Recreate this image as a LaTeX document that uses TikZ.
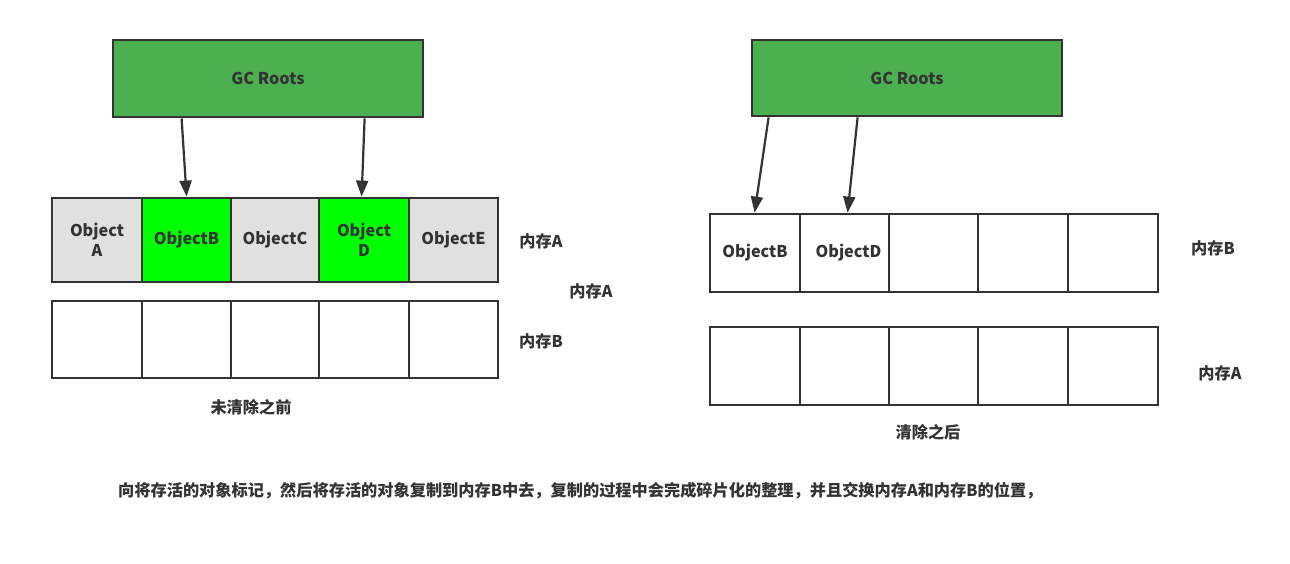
\documentclass[tikz,border=0pt]{standalone}
\usepackage{fontspec}
\setmainfont{Noto Sans CJK SC}
\usetikzlibrary{arrows.meta}
\definecolor{ink}{HTML}{333333}
\definecolor{rootgreen}{HTML}{4CAF50}
\definecolor{livegreen}{HTML}{00FF00}
\definecolor{deadgray}{HTML}{E0E0E0}
\begin{document}
\begin{tikzpicture}[x=1pt,y=-1pt,
  every node/.style={font=\bfseries\fontsize{16.2}{20}\selectfont, text=ink, inner sep=0pt, align=center},
  box/.style={draw=ink, line width=2.8pt, rectangle},
  root/.style={box, fill=rootgreen, minimum width=310pt, minimum height=77pt},
  cell/.style={box, minimum height=#1},
  ptr/.style={draw=ink, line width=2.2pt, -{Triangle[length=16pt,width=12pt]}}
]
\useasboundingbox (0,0) rectangle (1290,564);
\fill[white] (0,0) rectangle (1290,564);

% ---------- left ----------
\node[root] (gcL) at (268,78.5) {GC Roots};

\node[cell=84pt, fill=deadgray, minimum width=90pt] (a1) at (97,240) {Object\\A};
\node[cell=84pt, fill=livegreen, minimum width=89pt] (a2) at (186.5,240) {ObjectB};
\node[cell=84pt, fill=deadgray, minimum width=88pt] (a3) at (275,240) {ObjectC};
\node[cell=84pt, fill=livegreen, minimum width=90pt] (a4) at (364,240) {Object\\D};
\node[cell=84pt, fill=deadgray, minimum width=89pt] (a5) at (453.5,240) {ObjectE};

\node[cell=77pt, minimum width=90pt] (b1) at (97,339.5) {};
\node[cell=77pt, minimum width=89pt] (b2) at (186.5,339.5) {};
\node[cell=77pt, minimum width=88pt] (b3) at (275,339.5) {};
\node[cell=77pt, minimum width=90pt] (b4) at (364,339.5) {};
\node[cell=77pt, minimum width=89pt] (b5) at (453.5,339.5) {};

\draw[ptr] ([xshift=70pt]gcL.south west) -- ([xshift=46pt]a2.north west);
\draw[ptr] ([xshift=253pt]gcL.south west) -- ([xshift=44pt]a4.north west);

\node (lA1) at (541,241) {内存A};
\node (lA2) at (591,291) {内存A};
\node (lB1) at (541,341) {内存B};
\node (capL) at (251,407) {未清除之前};

% ---------- right ----------
\node[root, minimum height=76pt] (gcR) at (907,78) {GC Roots};

\node[cell=78pt, minimum width=90pt] (c1) at (755,253) {ObjectB};
\node[cell=78pt, minimum width=89pt] (c2) at (844.5,253) {\hspace*{8pt}ObjectD};
\node[cell=78pt, minimum width=89pt] (c3) at (933.5,253) {};
\node[cell=78pt, minimum width=90pt] (c4) at (1023,253) {};
\node[cell=78pt, minimum width=90pt] (c5) at (1113,253) {};

\node[cell=78pt, minimum width=90pt] (d1) at (755,366) {};
\node[cell=78pt, minimum width=89pt] (d2) at (844.5,366) {};
\node[cell=78pt, minimum width=89pt] (d3) at (933.5,366) {};
\node[cell=78pt, minimum width=90pt] (d4) at (1023,366) {};
\node[cell=78pt, minimum width=90pt] (d5) at (1113,366) {};

\draw[ptr] ([xshift=18pt]gcR.south west) -- ([xshift=46pt]c1.north west);
\draw[ptr] ([xshift=107pt]gcR.south west) -- ([xshift=49pt]c2.north west);

\node (rB) at (1213,248) {内存B};
\node (rA) at (1220,373) {内存A};
\node (capR) at (928,432) {清除之后};

% ---------- note ----------
\node[anchor=west] (note) at (118,491) {向将存活的对象标记，然后将存活的对象复制到内存B中去，复制的过程中会完成碎片化的整理，并且交换内存A和内存B的位置，};
\end{tikzpicture}
\end{document}
